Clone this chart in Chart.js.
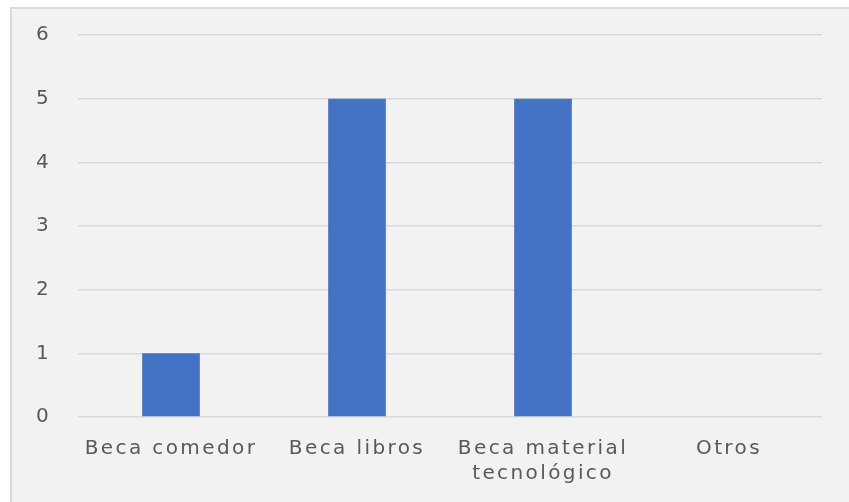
<!DOCTYPE html>
<html>
<head>
<meta charset="utf-8">
<script src="https://cdn.jsdelivr.net/npm/chart.js@4"></script>
<style>
  body { margin: 0; background: #fff; }
  #frame { position: absolute; left: 10px; top: 7px; width: 839px; height: 495px;
           background: #f2f2f2; border-left: 2px solid #d9d9d9; border-top: 2px solid #d9d9d9; }
  #chart { position: absolute; left: 0; top: 0; }
</style>
</head>
<body>
<div id="frame"></div>
<canvas id="chart" width="849" height="502"></canvas>
<script>
// values
const categories = ['Beca comedor', 'Beca libros', ['Beca material', 'tecnológico'], 'Otros'];
const counts = [1, 5, 5, 0];
const yTicks = [0, 1, 2, 3, 4, 5, 6];

// the source text is drawn wide, so stretch it a little
const spacing = {
  id: 'spacing',
  beforeLayout(chart) { chart.ctx.letterSpacing = '2.4px'; },
  beforeDraw(chart) { chart.ctx.letterSpacing = '2.4px'; }
};

new Chart(document.getElementById('chart'), {
  type: 'bar',
  data: {
    labels: categories,
    datasets: [{
      data: counts,
      backgroundColor: '#4472c4',
      categoryPercentage: 1,
      barPercentage: 0.31
    }]
  },
  options: {
    responsive: false,
    animation: false,
    layout: { padding: { top: 35, right: 27, left: 0, bottom: 0 } },
    plugins: { legend: { display: false }, tooltip: { enabled: false } },
    scales: {
      x: {
        grid: { display: false, drawTicks: false },
        border: { display: false },
        ticks: {
          color: '#595959', padding: 19, maxRotation: 0, autoSkip: false,
          font: { family: 'DejaVu Sans', size: 20, lineHeight: 1.25 }
        },
        afterFit(scale) { scale.height = 85; }
      },
      y: {
        min: yTicks[0],
        max: yTicks[yTicks.length - 1],
        grid: { color: '#d9d9d9', lineWidth: 1.5, drawTicks: false },
        border: { display: false },
        ticks: {
          stepSize: 1, color: '#595959', padding: 27,
          font: { family: 'DejaVu Sans', size: 20 }
        },
        afterFit(scale) {
          scale.width = 78;
          scale.paddingTop = 0;
          scale.paddingBottom = 0;
        }
      }
    }
  },
  plugins: [spacing]
});
</script>
</body>
</html>
